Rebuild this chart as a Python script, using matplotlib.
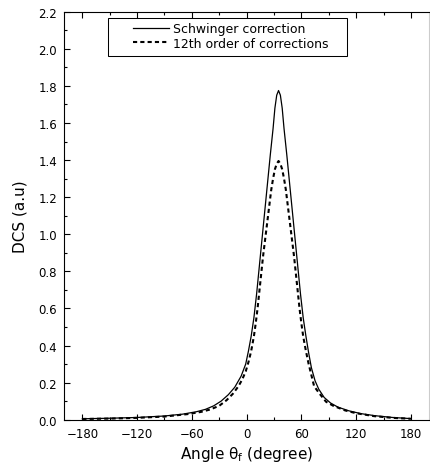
import matplotlib
matplotlib.use("Agg")
import matplotlib.pyplot as plt
from matplotlib.patches import Rectangle
from matplotlib.ticker import MultipleLocator, FormatStrFormatter

# values
angle_schwinger = [-180, -150, -120, -90, -70, -55, -45, -36, -28, -20, -13, -6, -1,
                   2, 5, 8, 11, 14, 17, 20, 23, 26, 29, 31, 33, 35,
                   37, 39, 41, 44, 47, 50, 53, 56, 59, 62, 65, 68, 71, 75, 79,
                   85, 92, 100, 112, 125, 140, 160, 180]
dcs_schwinger = [0.005, 0.008, 0.012, 0.020, 0.030, 0.043, 0.056, 0.075, 0.100, 0.135, 0.175, 0.235, 0.30,
                 0.37, 0.45, 0.55, 0.68, 0.83, 0.98, 1.13, 1.28, 1.43, 1.57, 1.68, 1.75, 1.775,
                 1.75, 1.68, 1.57, 1.43, 1.28, 1.13, 0.98, 0.83, 0.68, 0.55, 0.45, 0.36, 0.28, 0.21, 0.165,
                 0.12, 0.09, 0.068, 0.048, 0.033, 0.022, 0.012, 0.006]

angle_order12 = [-180, -150, -120, -90, -65, -50, -40, -30, -22, -15, -9, -5, -1,
                 2, 5, 8, 10, 12, 15, 18, 21, 24, 27, 29, 31, 33, 35,
                 37, 39, 41, 43, 46, 49, 52, 55, 58, 60, 62, 65, 68, 71, 74,
                 80, 87, 95, 108, 120, 140, 160, 180]
dcs_order12 = [0.004, 0.006, 0.010, 0.017, 0.030, 0.042, 0.055, 0.075, 0.105, 0.14, 0.18, 0.215, 0.26,
               0.31, 0.37, 0.45, 0.52, 0.60, 0.74, 0.88, 1.00, 1.12, 1.24, 1.30, 1.35, 1.38, 1.395,
               1.38, 1.35, 1.30, 1.24, 1.12, 1.00, 0.88, 0.74, 0.60, 0.52, 0.45, 0.37, 0.30, 0.24, 0.18,
               0.14, 0.097, 0.075, 0.050, 0.035, 0.019, 0.010, 0.005]

labels = ["Schwinger correction", "12th order of corrections"]

fig = plt.figure(figsize=(4.3, 4.64), dpi=100)
ax = fig.add_axes([0.149, 0.0933, 0.849, 0.8793])

ax.plot(angle_schwinger, dcs_schwinger, color="black", lw=0.9, label=labels[0])
ax.plot(angle_order12, dcs_order12, color="black", lw=1.5, ls=(0, (2, 1.5)), label=labels[1])

ax.set_xlim(-200, 200)
ax.set_ylim(0, 2.2)
ax.xaxis.set_major_locator(MultipleLocator(60))
ax.xaxis.set_minor_locator(MultipleLocator(30))
ax.yaxis.set_major_locator(MultipleLocator(0.2))
ax.yaxis.set_minor_locator(MultipleLocator(0.1))
ax.yaxis.set_major_formatter(FormatStrFormatter("%.1f"))

ax.tick_params(which="both", direction="in", top=True, right=False, width=0.8, labelsize=8.5)
ax.tick_params(which="major", length=4.5, pad=5)
ax.tick_params(which="minor", length=2.5)
for s in ["left", "bottom", "top"]:
    ax.spines[s].set_linewidth(0.8)
ax.spines["right"].set_color("#cccccc")

ax.set_xlabel("Angle θ$_\\mathregular{f}$ (degree)", fontsize=11, labelpad=3)
ax.set_ylabel("DCS (a.u)", fontsize=11, labelpad=8)

leg = ax.legend(loc="upper left", bbox_to_anchor=(0.189, 0.975), borderaxespad=0, borderpad=0,
                frameon=False, fontsize=9, handlelength=2.9, handletextpad=0.3, labelspacing=0.15)
# legend box is wider than the entries, so draw it separately
ax.add_patch(Rectangle((0.1205, 0.8914), 0.6548, 0.0932, transform=ax.transAxes,
                       fill=False, edgecolor="black", lw=0.75))

fig.savefig("out.png", dpi=100)
